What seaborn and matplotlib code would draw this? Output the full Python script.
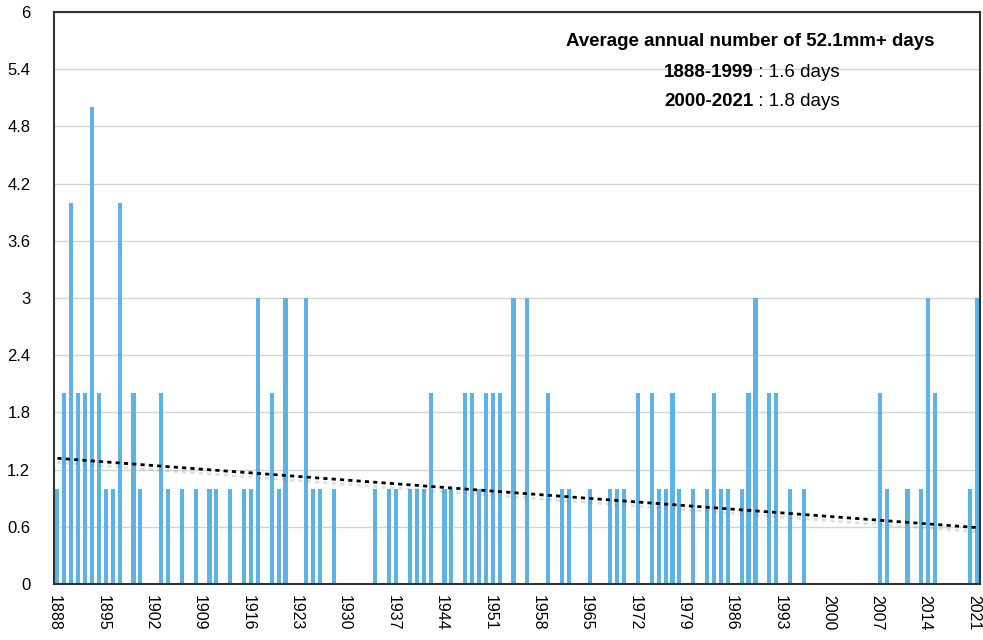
import numpy as np
import pandas as pd
import matplotlib
matplotlib.use("Agg")
import matplotlib.pyplot as plt
import matplotlib.patheffects as pe
import matplotlib.transforms as mtransforms
import seaborn as sns

# Years with at least one 52.1mm+ day (all other years are 0)
start_year = 1888
end_year = 2021
event_years = [
    1888, 1889, 1890, 1891, 1892, 1893, 1894, 1895, 1896, 1897, 1899, 1900,
    1903, 1904, 1906, 1908, 1910, 1911, 1913, 1915, 1916, 1917, 1919, 1920,
    1921, 1924, 1925, 1926, 1928, 1934, 1936, 1937, 1939, 1940, 1941, 1942,
    1944, 1945, 1947, 1948, 1949, 1950, 1951, 1952, 1954, 1956, 1959, 1961,
    1962, 1965, 1968, 1969, 1970, 1972, 1974, 1975, 1976, 1977, 1978, 1980,
    1982, 1983, 1984, 1985, 1987, 1988, 1989, 1991, 1992, 1994, 1996, 2007,
    2008, 2011, 2013, 2014, 2015, 2020, 2021,
]
event_days = [
    1, 2, 4, 2, 2, 5, 2, 1, 1, 4, 2, 1,
    2, 1, 1, 1, 1, 1, 1, 1, 1, 3, 2, 1,
    3, 3, 1, 1, 1, 1, 1, 1, 1, 1, 1, 2,
    1, 1, 2, 2, 1, 2, 2, 2, 3, 3, 2, 1,
    1, 1, 1, 1, 1, 2, 2, 1, 1, 2, 1, 1,
    1, 2, 1, 1, 1, 2, 3, 2, 2, 1, 1, 2,
    1, 1, 1, 3, 2, 1, 3,
]
y_ticks = [0, 0.6, 1.2, 1.8, 2.4, 3, 3.6, 4.2, 4.8, 5.4, 6]
title_line = "Average annual number of 52.1mm+ days"
period_labels = ["1888-1999", "2000-2021"]
period_values = [" : 1.6 days", " : 1.8 days"]

years = np.arange(start_year, end_year + 1)
days = pd.Series(0, index=years)
days.loc[event_years] = event_days
df = pd.DataFrame({"year": years, "days": days.values})

sns.set_theme(style="white")
plt.rcParams["font.family"] = ["Liberation Sans", "DejaVu Sans"]

fig = plt.figure(figsize=(9.83, 6.4), dpi=100)
ax = fig.add_axes([0.0549, 0.0875, 0.9421, 0.89375])

sns.barplot(data=df, x="year", y="days", native_scale=True, width=0.6,
            color="#5DB3E6", saturation=1, ax=ax)
for bar in ax.patches:
    bar.set_edgecolor("none")

# linear trend line
slope, intercept = np.polyfit(df["year"], df["days"], 1)
xs = np.array([start_year, end_year])
ax.plot(xs, slope * xs + intercept, color="black", linestyle=(0, (1.5, 1.5)),
        linewidth=2, zorder=5,
        path_effects=[pe.SimpleLineShadow(offset=(0, -3), shadow_color="gray", alpha=0.25),
                      pe.Normal()])

ax.set_xlim(start_year - 0.5, end_year + 0.5)
ax.set_ylim(0, 6)
ax.set_yticks(y_ticks)
ax.set_yticklabels([f"{v:g}" for v in y_ticks])
ax.set_xticks(years[::7])
ax.set_xticklabels([str(y) for y in years[::7]], rotation=-90)
ax.tick_params(axis="both", length=0, labelsize=12, colors="black")
ax.tick_params(axis="x", labelsize=11.5, pad=8)
ax.tick_params(axis="y", pad=17)
ax.set_xlabel("")
ax.set_ylabel("")

# nudge rotated year labels so they sit centred under their bars
shift = mtransforms.ScaledTranslation(-3 / 100, 0, fig.dpi_scale_trans)
for lbl in ax.get_xticklabels():
    lbl.set_transform(lbl.get_transform() + shift)

ax.yaxis.grid(True, color="#d4d4d4", linewidth=1)
ax.set_axisbelow(True)
for side in ax.spines.values():
    side.set_color("#333333")
    side.set_linewidth(1.5)

# annotation text
ax.text(0.7516, 0.949, title_line, transform=ax.transAxes, ha="center", va="center",
        fontsize=13.5, fontweight="bold", color="black")
for i, (lab, val) in enumerate(zip(period_labels, period_values)):
    yy = 0.895 - i * 0.051
    ax.text(0.755, yy, lab, transform=ax.transAxes, ha="right", va="center",
            fontsize=13.5, fontweight="bold", color="black")
    ax.text(0.755, yy, val, transform=ax.transAxes, ha="left", va="center",
            fontsize=13.5, color="black")

fig.savefig("out.png", dpi=100)
